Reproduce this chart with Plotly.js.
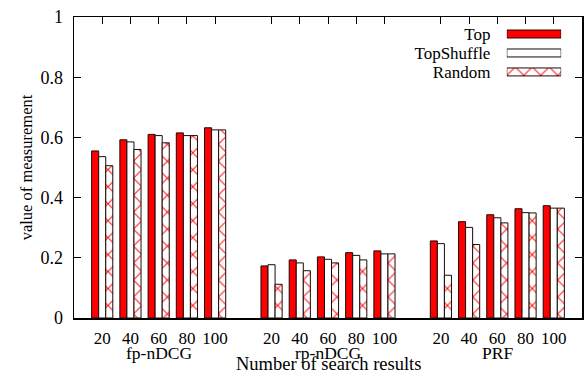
<!DOCTYPE html>
<html>
<head>
<meta charset="utf-8">
<script src="https://cdn.plot.ly/plotly-3.0.1.min.js"></script>
<style>html,body{margin:0;padding:0;background:#fff;}#chart{width:588px;height:374px;}</style>
</head>
<body>
<div id="chart"></div>
<script>
// ---- data ----
const metrics = ["fp-nDCG", "rp-nDCG", "PRF"];
const resultCounts = ["20", "40", "60", "80", "100"];
const seriesNames = ["Top", "TopShuffle", "Random"];
// values per metric (fp-nDCG, rp-nDCG, PRF), each 20..100
const topValues = [
  0.555, 0.592, 0.610, 0.615, 0.632,
  0.173, 0.193, 0.203, 0.217, 0.223,
  0.256, 0.320, 0.343, 0.363, 0.373
];
const topShuffleValues = [
  0.536, 0.585, 0.606, 0.606, 0.625,
  0.177, 0.183, 0.195, 0.208, 0.213,
  0.247, 0.301, 0.333, 0.350, 0.365
];
const randomValues = [
  0.506, 0.560, 0.582, 0.606, 0.625,
  0.112, 0.157, 0.183, 0.193, 0.213,
  0.142, 0.244, 0.316, 0.349, 0.365
];
const yTicks = [0, 0.2, 0.4, 0.6, 0.8, 1];
const yTickText = ["0", "0.2", "0.4", "0.6", "0.8", "1"];

// ---- build positions: one empty slot between metric groups ----
const slotsPerMetric = resultCounts.length + 1;
const xs = [], tickText = [];
metrics.forEach((m, mi) => resultCounts.forEach((c, ci) => {
  xs.push(mi * slotsPerMetric + ci);
  tickText.push(c);
}));

const FONT = "Liberation Serif, Times New Roman, serif";
const outline = {color: "#1a0a0a", width: 1};
const hatch = {shape: "x", fgcolor: "#ff1010", bgcolor: "#ffffff", size: 12, solidity: 0.16};
const styles = [
  {color: "#ff0000", line: outline},
  {color: "#ffffff", line: outline},
  {color: "#ffffff", line: outline, pattern: hatch}
];
const allValues = [topValues, topShuffleValues, randomValues];

const traces = seriesNames.map((name, i) => ({
  type: "bar", name: name, x: xs, y: allValues[i],
  marker: styles[i], showlegend: false, hoverinfo: "skip"
}));

// legend drawn as small horizontal bars on an auxiliary axis pair
seriesNames.forEach((name, i) => {
  traces.push({
    type: "bar", orientation: "h", name: name,
    y: [name], x: [1], offsetgroup: "legend",
    xaxis: "x2", yaxis: "y2", width: 0.42, showlegend: false, hoverinfo: "skip",
    marker: styles[i]
  });
});

const groupAnnotations = metrics.map((m, mi) => ({
  text: m, xref: "x", yref: "paper",
  x: mi * slotsPerMetric + (resultCounts.length - 1) / 2, y: -0.115,
  xanchor: "center", yanchor: "middle", showarrow: false,
  font: {family: FONT, size: 17.5, color: "#000"}
}));

const layout = {
  width: 588, height: 374,
  margin: {l: 74, r: 6, t: 17, b: 56},
  paper_bgcolor: "#fff", plot_bgcolor: "#fff",
  barmode: "group", bargap: 0.25, bargroupgap: 0,
  showlegend: false,
  font: {family: FONT, size: 17, color: "#000"},
  xaxis: {
    range: [-1, metrics.length * slotsPerMetric - 1],
    tickmode: "array", tickvals: xs, ticktext: tickText,
    ticks: "inside", ticklen: 7, tickwidth: 1, tickcolor: "#000",
    mirror: "ticks", showline: true, linecolor: "#000", linewidth: 1.5,
    showgrid: false, zeroline: false, layer: "below traces",
    ticklabelstandoff: 4,
    tickfont: {family: FONT, size: 17, color: "#000"}
  },
  yaxis: {
    range: [0, 1], tickmode: "array", tickvals: yTicks, ticktext: yTickText,
    ticks: "inside", ticklen: 7, tickwidth: 1, tickcolor: "#000",
    mirror: "ticks", showline: true, linecolor: "#000", linewidth: 1.5,
    showgrid: false, zeroline: false, layer: "below traces",
    ticklabelstandoff: 6,
    tickfont: {family: FONT, size: 18, color: "#000"},
    title: {text: "value of measurement", standoff: 3,
            font: {family: FONT, size: 16.5, color: "#000"}}
  },
  xaxis2: {
    domain: [0.852, 0.959], range: [0, 1], anchor: "y2",
    visible: false, fixedrange: true
  },
  yaxis2: {
    domain: [0.786, 0.975], anchor: "x2", autorange: "reversed",
    type: "category", tickmode: "array", tickvals: seriesNames, ticktext: seriesNames,
    showline: false, showgrid: false, zeroline: false,
    ticks: "outside", ticklen: 12, tickcolor: "rgba(0,0,0,0)",
    tickfont: {family: FONT, size: 17, color: "#000"}
  },
  annotations: groupAnnotations.concat([
    {text: "Number of search results", xref: "paper", yref: "paper",
     x: 0.5, y: -0.152, xanchor: "center", yanchor: "middle", showarrow: false,
     font: {family: FONT, size: 18.5, color: "#000"}}
  ])
};

Plotly.newPlot("chart", traces, layout, {staticPlot: true, displayModeBar: false});
</script>
</body>
</html>
